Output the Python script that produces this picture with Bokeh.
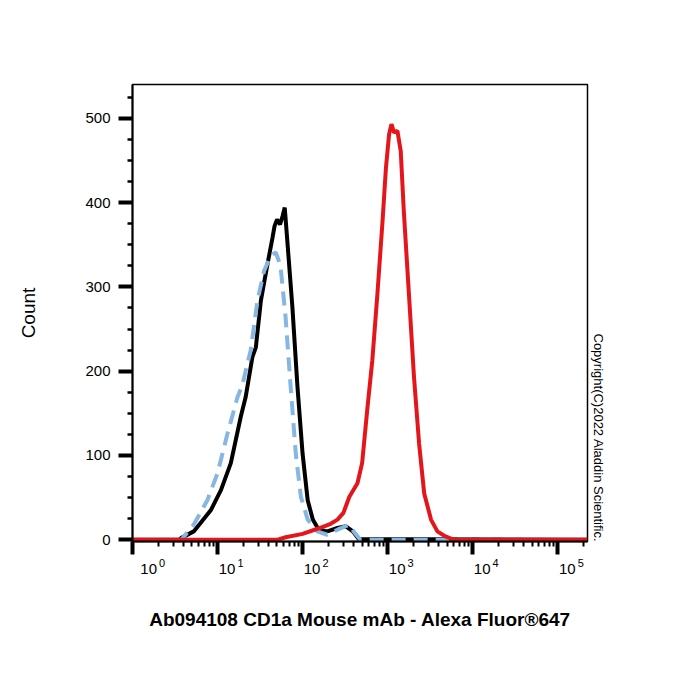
from bokeh.plotting import figure
from bokeh.models import Range1d, FixedTicker, LogAxis, Title, CustomJSTickFormatter
from bokeh.embed import file_html
from bokeh.resources import INLINE

# ---- data (log10 fluorescence position, event count) ----
black_log = [0.0, 0.55, 0.57, 0.72, 0.92, 1.04, 1.156, 1.273, 1.33, 1.41, 1.45, 1.51,
             1.587, 1.646, 1.67, 1.70, 1.735, 1.765, 1.79, 1.82, 1.88, 1.94, 2.0, 2.06,
             2.12, 2.19, 2.29, 2.41, 2.51, 2.59, 2.66, 5.35]
black_count = [0, 0, 2, 10, 35, 59, 91, 146, 169, 217, 228, 284,
               327, 358, 372, 380, 374, 384, 394, 355, 276, 181, 102, 47,
               24, 12, 10, 14, 16, 10, 1, 0]

blue_log = [0.0, 0.57, 0.59, 0.72, 0.88, 1.0, 1.117, 1.234, 1.29, 1.39, 1.47, 1.547,
            1.626, 1.685, 1.74, 1.80, 1.86, 1.92, 1.98, 2.06, 2.17, 2.29, 2.41, 2.55,
            2.60, 2.68, 5.35]
blue_count = [0, 0, 2, 18, 47, 79, 126, 169, 183, 225, 284, 319,
              337, 341, 325, 264, 181, 102, 51, 24, 10, 6, 12, 18,
              10, 0, 0]

red_log = [0.0, 1.70, 1.80, 2.0, 2.2, 2.33, 2.41, 2.48, 2.55, 2.645, 2.70, 2.76, 2.82,
           2.88, 2.94, 2.98, 3.017, 3.045, 3.076, 3.115, 3.154, 3.19, 3.25, 3.31, 3.37,
           3.43, 3.51, 3.585, 3.68, 3.78, 5.35]
red_count = [0, 0, 3, 7, 14, 19, 24, 32, 51, 67, 91, 154, 213,
             292, 378, 441, 481, 493, 483, 485, 461, 390, 292, 193, 114,
             55, 24, 10, 4, 0, 0]

x_decades = [0, 1, 2, 3, 4, 5]
y_major = [0, 100, 200, 300, 400, 500]
y_minor = [25, 50, 75, 125, 150, 175, 225, 250, 275, 325, 350, 375, 425, 450, 475, 525]

title_text = "Ab094108 CD1a Mouse mAb - Alexa Fluor®647"
y_label = "Count"
copyright_text = "Copyright(C)2022 Aladdin Scientific."

FONT = "Liberation Sans"
X_END = 5.35

# label placement (in decades, to the right of each decade tick)
BASE_SHIFT = [0.19, 0.112, 0.112, 0.112, 0.112, 0.112]
EXP_SHIFT = [0.348, 0.27, 0.27, 0.27, 0.27, 0.27]

p = figure(width=700, height=700, x_axis_type="log", output_backend="svg",
           toolbar_location=None,
           x_range=Range1d(10 ** 0, 10 ** X_END), y_range=Range1d(-2, 540),
           min_border_left=132, min_border_right=113, min_border_top=84,
           min_border_bottom=159)
p.grid.visible = False
p.outline_line_color = "black"
p.outline_line_width = 1.5
p.background_fill_color = "white"
p.border_fill_color = "white"

# curves
p.line([10 ** v for v in black_log], black_count, line_color="black", line_width=4)
p.line([10 ** v for v in blue_log], blue_count, line_color="#86b6e2", line_width=4,
       line_dash="14 8")
p.line([10 ** v for v in red_log], red_count, line_color="#e3171b", line_width=4)

# x axis: ticks only
minor_x = [m * 10 ** k for k in x_decades for m in range(2, 10) if m * 10 ** k <= 10 ** X_END]
xa = p.xaxis[0]
xa.ticker = FixedTicker(ticks=[10 ** k for k in x_decades], minor_ticks=minor_x)
xa.major_label_text_font_size = "1px"
xa.major_label_text_color = None
xa.major_label_standoff = 0
xa.axis_line_width = 2
xa.major_tick_line_width = 4
xa.major_tick_out = 13
xa.major_tick_in = 0
xa.minor_tick_line_width = 2
xa.minor_tick_out = 5
xa.minor_tick_in = 0

# exponent labels (superscripts)
exp_axis = LogAxis(
    ticker=FixedTicker(ticks=[10 ** (k + s) for k, s in zip(x_decades, EXP_SHIFT)]),
    formatter=CustomJSTickFormatter(code="return Math.floor(Math.log10(tick)).toString()"),
    axis_line_color=None, major_tick_out=0, major_tick_in=0, minor_tick_out=0,
    minor_tick_in=0, major_label_standoff=4, major_label_text_font=FONT,
    major_label_text_font_size="11px", major_label_text_color="black")
p.add_layout(exp_axis, "below")

# base "10" labels, with the chart title as this axis' label
base_axis = LogAxis(
    ticker=FixedTicker(ticks=[10 ** (k + s) for k, s in zip(x_decades, BASE_SHIFT)]),
    formatter=CustomJSTickFormatter(code='return "10"'),
    axis_line_color=None, major_tick_out=0, major_tick_in=0, minor_tick_out=0,
    minor_tick_in=0, major_label_standoff=-6, major_label_text_font=FONT,
    major_label_text_font_size="15px", major_label_text_color="black",
    axis_label=title_text, axis_label_text_font=FONT, axis_label_text_font_size="19px",
    axis_label_text_font_style="bold", axis_label_text_color="black",
    axis_label_standoff=32)
p.add_layout(base_axis, "below")

# y axis
p.yaxis.ticker = FixedTicker(ticks=y_major, minor_ticks=y_minor)
p.yaxis.axis_line_width = 2
p.yaxis.major_tick_line_width = 4
p.yaxis.major_tick_out = 14
p.yaxis.major_tick_in = 0
p.yaxis.minor_tick_line_width = 2.5
p.yaxis.minor_tick_out = 5
p.yaxis.minor_tick_in = 0
p.yaxis.major_label_standoff = 8
p.yaxis.major_label_text_font = FONT
p.yaxis.major_label_text_font_size = "15px"
p.yaxis.major_label_text_color = "black"
p.yaxis.axis_label = y_label
p.yaxis.axis_label_text_font = FONT
p.yaxis.axis_label_text_font_size = "19px"
p.yaxis.axis_label_text_font_style = "normal"
p.yaxis.axis_label_text_color = "black"
p.yaxis.axis_label_standoff = 43

# copyright on the right side
p.add_layout(Title(text=copyright_text, align="left", offset=249, standoff=6,
                   text_font=FONT, text_font_size="13px", text_font_style="normal",
                   text_color="black"), "right")

open("out.html", "w").write(file_html(p, INLINE))
